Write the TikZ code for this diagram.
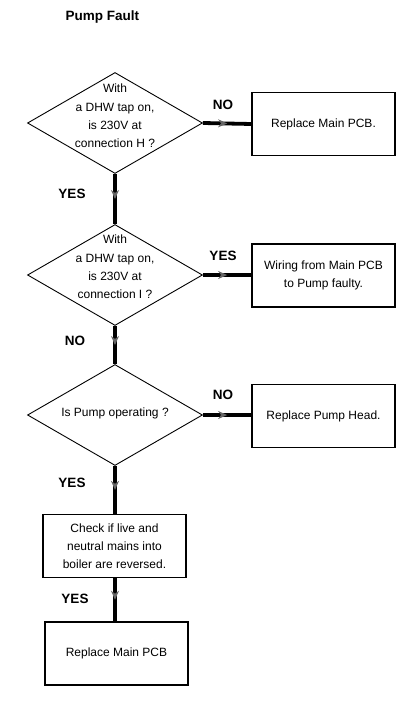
\documentclass[tikz,border=0pt]{standalone}
\usepackage{fontspec}
\setmainfont{Liberation Sans}
\usetikzlibrary{shapes.geometric,arrows.meta,decorations.markings}
\begin{document}
\begin{tikzpicture}[x=1pt,y=-1pt,
  dec/.style={draw, line width=0.9pt, diamond, aspect=1.72, minimum width=175pt, minimum height=101pt, inner sep=0pt},
  dtext/.style={align=center, inner sep=0pt, font=\fontsize{12}{18.2}\selectfont},
  act/.style={draw, line width=1.4pt, minimum width=143pt, minimum height=63pt, inner sep=2pt, align=center, font=\fontsize{12}{18}\selectfont},
  flow/.style={line width=3.8pt, postaction={decorate}, decoration={markings, mark=at position 0.5 with {\arrow[black!60]{Stealth[length=9pt,width=8pt,inset=3pt]}}}},
  lbl/.style={font=\bfseries\fontsize{13.5}{15}\selectfont}]
\useasboundingbox (0,0) rectangle (405,714);
\node[lbl, anchor=west] (title) at (62,17) {Pump Fault};

\node[dec] (d1) at (115,123) {};
\node[dtext] (t1) at ([yshift=7pt]d1.center) {With\\a DHW tap on,\\is 230V at\\connection H ?};
\node[act] (b1) at (323.5,124) {Replace Main PCB.};
\node[dec] (d2) at (115,275) {};
\node[dtext] (t2) at ([yshift=8pt]d2.center) {With\\a DHW tap on,\\is 230V at\\connection I ?};
\node[act] (b2) at (323.5,275.5) {Wiring from Main PCB\\to Pump faulty.};
\node[dec] (d3) at (115,415) {};
\node[dtext] (t3) at ([yshift=2pt]d3.center) {Is Pump operating ?};
\node[act] (b3) at (323.5,416) {Replace Pump Head.};
\node[act] (b4) at (114.5,546) {Check if live and\\neutral mains into\\boiler are reversed.};
\node[act] (b5) at (116.5,653.5) {Replace Main PCB};

\draw[flow] (d1.east) -- (b1.west);
\draw[flow] (d1.south) -- (d2.north);
\draw[flow] (d2.east) -- (b2.west |- d2.east);
\draw[flow] (d2.south) -- (d3.north);
\draw[flow] (d3.east) -- (b3.west |- d3.east);
\draw[flow] (d3.south) -- (b4.north -| d3.south);
\draw[flow] (b4.south -| d3.south) -- (b5.north -| d3.south);

\node[lbl] (n1) at (223,105) {NO};
\node[lbl] (y1) at (72,194) {YES};
\node[lbl] (y2) at (223,256) {YES};
\node[lbl] (n2) at (75,341) {NO};
\node[lbl] (n3) at (223,395) {NO};
\node[lbl] (y3) at (72,483) {YES};
\node[lbl] (y4) at (75,599) {YES};
\end{tikzpicture}
\end{document}
